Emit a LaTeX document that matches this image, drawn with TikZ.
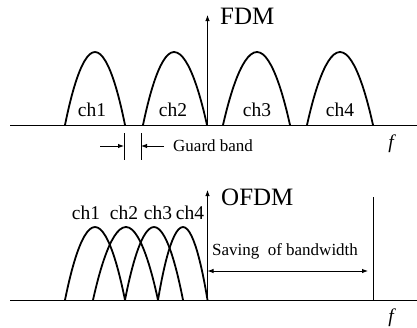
\documentclass[tikz,border=0pt]{standalone}
\usepackage{fontspec}
\setmainfont{Liberation Serif}
\usetikzlibrary{arrows.meta}
\begin{document}
\begin{tikzpicture}[x=1pt,y=-1pt,
  axis/.style={line width=0.9pt,-{Latex[length=6pt,width=4.5pt]}},
  hump/.style={line width=1.8pt},
  lbl/.style={inner sep=0pt,font=\fontsize{19.5}{21}\selectfont},
  title/.style={inner sep=0pt,font=\fontsize{25}{27}\selectfont},
  small/.style={inner sep=0pt,font=\fontsize{17}{19}\selectfont},
  thin/.style={line width=0.9pt},
  garrow/.style={line width=0.9pt,-{Latex[length=6pt,width=4.5pt]}}]
\useasboundingbox (0,0) rectangle (417,327);
% ---------- FDM ----------
\coordinate (a1) at (10,125);
\coordinate (a2) at (423,125);
\draw[axis] (a1) -- (a2);
\coordinate (v1) at (207.5,125);
\coordinate (v2) at (207.5,15);
\draw[axis] (v1) -- (v2);
\node[title,anchor=west] (fdm) at (220,16) {FDM};
\draw[hump] (65,125) parabola bend (95,52) (125,125);
\draw[hump] (143,125) parabola bend (174,52) (207,125);
\draw[hump] (223,125) parabola bend (257,52) (290,125);
\draw[hump] (307,125) parabola bend (340,52) (373,125);
\node[lbl] (c1) at (92,110) {ch1};
\node[lbl] (c2) at (173,110) {ch2};
\node[lbl] (c3) at (257,110) {ch3};
\node[lbl] (c4) at (340,110) {ch4};
\coordinate (g1t) at (124,133);
\coordinate (g1b) at (124,160);
\coordinate (g2t) at (141,133);
\coordinate (g2b) at (141,160);
\draw[thin] (g1t) -- (g1b);
\draw[thin] (g2t) -- (g2b);
\coordinate (l1) at (100,146);
\coordinate (l2) at (124,146);
\coordinate (r1) at (164,146);
\coordinate (r2) at (141,146);
\draw[garrow] (l1) -- (l2);
\draw[garrow] (r1) -- (r2);
\node[small,anchor=west] (gb) at (173,146) {Guard band};
\node[lbl] (f1) at (391,144) {\itshape f};
% ---------- OFDM ----------
\coordinate (b1) at (10,300);
\coordinate (b2) at (423,300);
\draw[axis] (b1) -- (b2);
\coordinate (w1) at (207.5,300);
\coordinate (w2) at (207.5,190);
\draw[axis] (w1) -- (w2);
\node[title,anchor=west] (ofdm) at (221,197) {OFDM};
\draw[hump] (65,300) parabola bend (95,227) (125,300);
\draw[hump] (93,300) parabola bend (126,227) (158,300);
\draw[hump] (125,300) parabola bend (154,227) (183,300);
\draw[hump] (158,300) parabola bend (183,227) (207.5,300);
\node[lbl] (d1) at (86,213) {ch1};
\node[lbl] (d2) at (124,213) {ch2};
\node[lbl] (d3) at (158,213) {ch3};
\node[lbl] (d4) at (190,213) {ch4};
\coordinate (e1) at (373,197);
\coordinate (e2) at (373,300);
\draw[thin] (e1) -- (e2);
\coordinate (s1) at (207.5,271);
\coordinate (s2) at (368,271);
\draw[thin,{Latex[length=6pt,width=4.5pt]}-{Latex[length=6pt,width=4.5pt]}] (s1) -- (s2);
\node[small] (sv) at (285,251) {Saving\ \ of\ bandwidth};
\node[lbl] (f2) at (391,318) {\itshape f};
\end{tikzpicture}
\end{document}
